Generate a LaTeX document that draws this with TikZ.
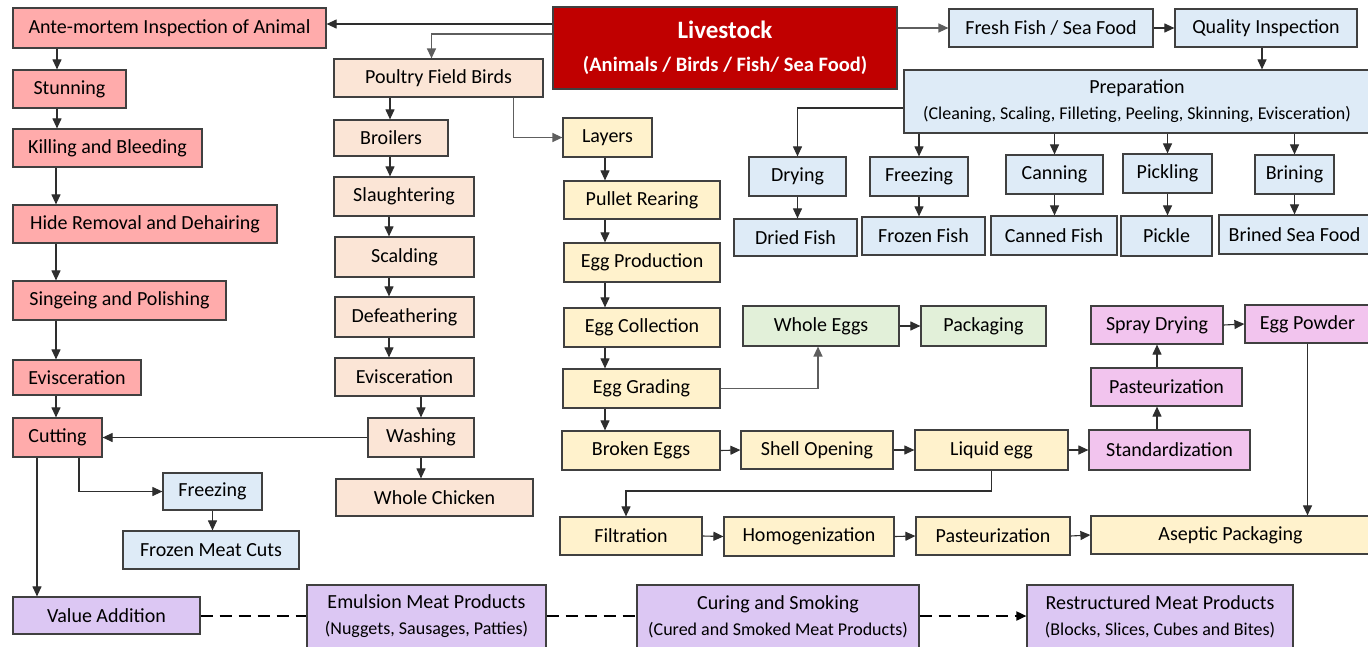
\documentclass[tikz,border=0pt]{standalone}
\usepackage{fontspec}
\setmainfont{Carlito}
\usetikzlibrary{arrows.meta}

\definecolor{meatred}{HTML}{FFABAB}
\definecolor{poultry}{HTML}{FBE5D6}
\definecolor{eggyellow}{HTML}{FFF2CC}
\definecolor{fishblue}{HTML}{DEEBF7}
\definecolor{eggreen}{HTML}{E2F0D9}
\definecolor{eggpink}{HTML}{F2C4EE}
\definecolor{valpurple}{HTML}{DCC7F3}
\definecolor{livered}{HTML}{C00000}
\definecolor{boxline}{HTML}{404040}
\definecolor{linedark}{HTML}{2E2E2E}
\definecolor{linegray}{HTML}{5E5E5E}

% \flowbox{name}{style}{x1}{y1}{x2}{y2}{text}: box spanning the given corners
\newcommand\flowbox[7]{%
  \node[#2, minimum width={(#5)-(#3)}, minimum height={(#6)-(#4)}]
    (#1) at ({((#3)+(#5))/2},{((#4)+(#6))/2}) {#7};}

\begin{document}
\begin{tikzpicture}[x=1pt,y=-1pt,
  box/.style={draw=boxline, line width=1.2pt, inner sep=1pt, align=center,
    text=black, font=\fontsize{20}{24}\selectfont},
  meat/.style={box, fill=meatred},
  bird/.style={box, fill=poultry},
  egg/.style={box, fill=eggyellow},
  fish/.style={box, fill=fishblue},
  whole/.style={box, fill=eggreen},
  powder/.style={box, fill=eggpink},
  valueadd/.style={box, fill=valpurple},
  source/.style={box, fill=livered, text=white, font=\fontsize{20.5}{24}\bfseries},
  conn/.style={draw=linedark, line width=1.1pt, -{Triangle[length=10pt,width=9pt]}},
  grayconn/.style={conn, draw=linegray, line width=1.3pt},
  dashlink/.style={draw=black, line width=1.8pt, dash pattern=on 12pt off 7pt}
]
\useasboundingbox (0,0) rectangle (1368,646);
\fill[white] (0,0) rectangle (1368,646);

% column guides for the vertical chains
\coordinate (mcol) at (57,0);
\coordinate (pcol) at (390,0);
\coordinate (lcol) at (605,0);

% source
\flowbox{live}{source}{553}{7}{897}{89}{{\fontsize{25}{30}\selectfont Livestock}\\[9pt](Animals / Birds / Fish/ Sea Food)}

% meat chain
\flowbox{ante}{meat}{13}{8}{326}{48}{Ante-mortem Inspection of Animal}
\flowbox{stun}{meat}{13}{70}{126}{108}{Stunning}
\flowbox{kill}{meat}{13}{129}{202}{167}{Killing and Bleeding}
\flowbox{hide}{meat}{13}{205}{277}{243}{Hide Removal and Dehairing}
\flowbox{singe}{meat}{13}{281}{226}{320}{Singeing and Polishing}
\flowbox{evm}{meat}{13}{360}{141}{395}{Evisceration}
\flowbox{cut}{meat}{13}{418}{102}{457}{Cutting}
\flowbox{frzm}{fish}{163}{473}{262}{510}{Freezing}
\flowbox{cuts}{fish}{123}{531}{299}{569}{Frozen Meat Cuts}
\flowbox{value}{valueadd}{13}{597}{200}{634}{Value Addition}

% poultry chain
\flowbox{pfb}{bird}{334}{59}{543}{97}{Poultry Field Birds}
\flowbox{broil}{bird}{334}{120}{448}{156}{Broilers}
\flowbox{slaught}{bird}{334}{177}{474}{216}{Slaughtering}
\flowbox{scald}{bird}{335}{237}{474}{277}{Scalding}
\flowbox{defeat}{bird}{335}{297}{474}{337}{Defeathering}
\flowbox{evp}{bird}{335}{358}{474}{396}{Evisceration}
\flowbox{wash}{bird}{368}{418}{474}{457}{Washing}
\flowbox{chicken}{bird}{336}{479}{533}{516}{Whole Chicken}

% fish chain
\flowbox{fresh}{fish}{949}{9}{1153}{47}{Fresh Fish / Sea Food}
\flowbox{qual}{fish}{1175}{9}{1357}{47}{Quality Inspection}
\flowbox{prep}{fish}{904}{70}{1370}{133}{Preparation\\[2pt]{\fontsize{18}{22}\selectfont (Cleaning, Scaling, Filleting, Peeling, Skinning, Evisceration)}}
\flowbox{dry}{fish}{749}{157}{846}{196}{Drying}
\flowbox{frzf}{fish}{870}{157}{968}{196}{Freezing}
\flowbox{can}{fish}{1006}{155}{1103}{194}{Canning}
\flowbox{pick}{fish}{1123}{154}{1212}{193}{Pickling}
\flowbox{brin}{fish}{1255}{155}{1334}{194}{Brining}
\flowbox{dried}{fish}{734}{219}{857}{256}{Dried Fish}
\flowbox{frozen}{fish}{862}{217}{985}{255}{Frozen Fish}
\flowbox{canned}{fish}{991}{216}{1117}{255}{Canned Fish}
\flowbox{pickle}{fish}{1121}{216}{1212}{256}{Pickle}
\flowbox{brined}{fish}{1219}{215}{1370}{254}{Brined Sea Food}

% egg chain
\flowbox{layers}{egg}{563}{118}{652}{157}{Layers}
\flowbox{pullet}{egg}{564}{181}{720}{219}{Pullet Rearing}
\flowbox{eprod}{egg}{564}{243}{720}{282}{Egg Production}
\flowbox{ecoll}{egg}{564}{308}{720}{347}{Egg Collection}
\flowbox{egrade}{egg}{563}{369}{720}{408}{Egg Grading}
\flowbox{broken}{egg}{562}{431}{720}{470}{Broken Eggs}
\flowbox{shell}{egg}{741}{431}{893}{469}{Shell Opening}
\flowbox{liquid}{egg}{915}{430}{1068}{470}{Liquid egg}
\flowbox{filt}{egg}{560}{517}{702}{555}{Filtration}
\flowbox{homog}{egg}{724}{517}{894}{556}{Homogenization}
\flowbox{pastb}{egg}{916}{517}{1070}{555}{Pasteurization}
\flowbox{asept}{egg}{1091}{516}{1370}{554}{Aseptic Packaging}
\flowbox{wegg}{whole}{743}{306}{899}{346}{Whole Eggs}
\flowbox{pack}{whole}{921}{306}{1046}{346}{Packaging}
\flowbox{spray}{powder}{1091}{306}{1223}{344}{Spray Drying}
\flowbox{epow}{powder}{1245}{305}{1370}{343}{Egg Powder}
\flowbox{pasta}{powder}{1091}{368}{1242}{406}{Pasteurization}
\flowbox{stand}{powder}{1089}{430}{1250}{470}{Standardization}

% value-added products
\flowbox{emul}{valueadd}{307}{585}{546}{648}{Emulsion Meat Products\\[2pt]{\fontsize{18}{22}\selectfont (Nuggets, Sausages, Patties)}}
\flowbox{curing}{valueadd}{637}{585}{919}{648}{Curing and Smoking\\[2pt]{\fontsize{18}{22}\selectfont (Cured and Smoked Meat Products)}}
\flowbox{restr}{valueadd}{1027}{585}{1293}{648}{Restructured Meat Products\\[2pt]{\fontsize{18}{22}\selectfont (Blocks, Slices, Cubes and Bites)}}

% --- connectors from the source
\draw[conn] (live.west |- 0,24) -- (ante.east |- 0,24);
\draw[grayconn] (live.west |- 0,34) -| ([xshift=-7pt]pfb.north);
\draw[grayconn] (live.east |- fresh.west) -- (fresh.west);

% meat chain
\draw[conn] (mcol |- ante.south) -- (mcol |- stun.north);
\draw[conn] (mcol |- stun.south) -- (mcol |- kill.north);
\draw[conn] ([xshift=-1pt]mcol |- kill.south) -- ([xshift=-1pt]mcol |- hide.north);
\draw[conn] ([xshift=-1pt]mcol |- hide.south) -- ([xshift=-1pt]mcol |- singe.north);
\draw[conn] ([xshift=-1pt]mcol |- singe.south) -- ([xshift=-1pt]mcol |- evm.north);
\draw[conn] ([xshift=-1pt]mcol |- evm.south) -- ([xshift=-1pt]mcol |- cut.north);
\draw[conn] (wash.west) -- (cut.east);
\draw[conn] ([xshift=21.5pt]cut.south) |- (frzm.west);
\draw[conn] (frzm.south) -- (frzm.south |- cuts.north);
\draw[conn] ([xshift=-20.5pt]cut.south) -- ([xshift=-20.5pt]cut.south |- value.north);

% poultry chain
\draw[conn] (pcol |- pfb.south) -- (pcol |- broil.north);
\draw[conn] (pcol |- broil.south) -- (pcol |- slaught.north);
\draw[conn] ([xshift=-1pt]pcol |- slaught.south) -- ([xshift=-1pt]pcol |- scald.north);
\draw[conn] ([xshift=-1pt]pcol |- scald.south) -- ([xshift=-1pt]pcol |- defeat.north);
\draw[conn] ([xshift=-1pt]pcol |- defeat.south) -- ([xshift=-1pt]pcol |- evp.north);
\draw[conn] (wash.north |- evp.south) -- (wash.north);
\draw[conn] (wash.south) -- (wash.south |- chicken.north);
\draw[grayconn] ([xshift=-30pt]pfb.south east) |- (layers.west);

% fish chain
\draw[conn] (fresh.east) -- (qual.west);
\draw[conn] ([xshift=-4pt]qual.south) -- ([xshift=-4pt]qual.south |- prep.north);
\draw[conn] (prep.west |- 0,108) -| (dry.north);
\draw[conn] (frzf.north |- prep.south) -- (frzf.north);
\draw[conn] (can.north |- prep.south) -- (can.north);
\draw[conn] (pick.north |- prep.south) -- (pick.north);
\draw[conn] (brin.north |- prep.south) -- (brin.north);
\draw[conn] (dry.south) -- (dry.south |- dried.north);
\draw[conn] (frzf.south) -- (frzf.south |- frozen.north);
\draw[conn] (can.south) -- (can.south |- canned.north);
\draw[conn] (pick.south) -- (pick.south |- pickle.north);
\draw[conn] (brin.south) -- (brin.south |- brined.north);

% egg chain
\draw[conn] (lcol |- layers.south) -- (lcol |- pullet.north);
\draw[conn] (lcol |- pullet.south) -- (lcol |- eprod.north);
\draw[conn] (lcol |- eprod.south) -- (lcol |- ecoll.north);
\draw[conn] (lcol |- ecoll.south) -- (lcol |- egrade.north);
\draw[conn] (lcol |- egrade.south) -- (lcol |- broken.north);
\draw[grayconn] (egrade.east) -| ([xshift=-3pt]wegg.south);
\draw[conn] (wegg.east) -- (pack.west);
\draw[conn] (broken.east) -- (shell.west);
\draw[conn] (shell.east) -- (liquid.west);
\draw[conn] (liquid.east) -- (stand.west);
\draw[conn] (spray.south |- stand.north) -- (spray.south |- pasta.south);
\draw[conn] (spray.south |- pasta.north) -- (spray.south);
\draw[conn] (spray.east) -- (epow.west);
\draw[conn] (epow.south) -- (epow.south |- asept.north);
\draw[conn] (liquid.south) -- (liquid.south |- 0,491) -| ([xshift=-5pt]filt.north);
\draw[conn] (filt.east) -- (homog.west);
\draw[conn] (homog.east) -- (pastb.west);
\draw[conn] (pastb.east) -- (asept.west);

% value-added links
\draw[dashlink] (value.east |- 0,616) -- (emul.west |- 0,616);
\draw[dashlink] (emul.east |- 0,616) -- (curing.west |- 0,616);
\draw[dashlink, -{Triangle[length=10pt,width=9pt]}] (curing.east |- 0,616) -- (restr.west |- 0,616);
\end{tikzpicture}
\end{document}
